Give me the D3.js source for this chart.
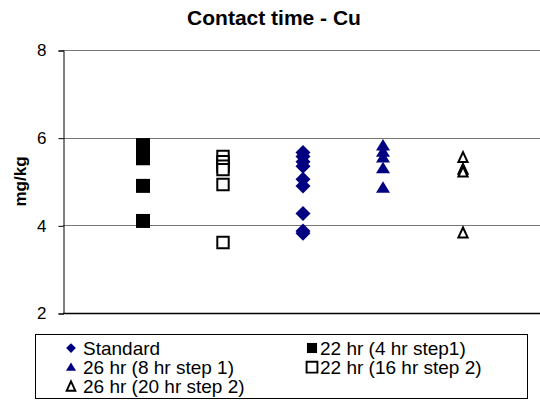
<!DOCTYPE html>
<html>
<head>
<meta charset="utf-8">
<script src="https://cdn.jsdelivr.net/npm/d3@7"></script>
<style>
  body { margin: 0; background: #fff; }
  text { font-family: Arial, "Liberation Sans", sans-serif; }
</style>
</head>
<body>
<div id="chart"></div>
<script>
// series names, in legend order
const seriesNames = [
  "Standard",
  "22 hr (4 hr step1)",
  "26 hr (8 hr step 1)",
  "22 hr (16 hr step 2)",
  "26 hr (20 hr step 2)",
];
// x position of each series on the (hidden) x axis
const seriesX = [3, 1, 4, 2, 5];
const seriesShapes = ["diamond", "square", "triangle", "openSquare", "openTriangle"];

// values in mg/kg
const standardValues = [5.66, 5.57, 5.45, 5.35, 5.05, 4.9, 4.27, 3.87, 3.82];
const hr22step1Values = [5.83, 5.72, 5.62, 5.53, 4.9, 4.1];
const hr26step1Values = [5.82, 5.68, 5.55, 5.3, 4.86];
const hr22step2Values = [5.57, 5.45, 5.35, 5.27, 4.93, 3.61];
const hr26step2Values = [5.55, 5.28, 5.22, 3.83];
const seriesValues = [standardValues, hr22step1Values, hr26step1Values, hr22step2Values, hr26step2Values];

const yTicks = [2, 4, 6, 8];

const width = 540,
  height = 402;
const margin = { top: 50, left: 63, bottom: 89 };
const navy = "#000080";

const svg = d3.select("#chart").append("svg").attr("width", width).attr("height", height);

const x = d3.scaleLinear().domain([0, 6]).range([margin.left, margin.left + 480]);
const y = d3
  .scaleLinear()
  .domain([2, 8])
  .range([height - margin.bottom, margin.top]);

// marker paths centred on 0,0
function markerPath(shape) {
  if (shape === "diamond") return "M0,-7.5L7.5,0L0,7.5L-7.5,0Z";
  if (shape === "square") return "M-7,-7H7V7H-7Z";
  if (shape === "openSquare") return "M-5.7,-5.7H5.7V5.7H-5.7Z";
  if (shape === "triangle") return "M0,-6.5L7,5L-7,5Z";
  return "M0,-5.3L4.6,4.6L-4.6,4.6Z";
}
function markerStyle(sel, shape) {
  if (shape === "diamond" || shape === "triangle") sel.attr("fill", navy).attr("stroke", "none");
  else if (shape === "square") sel.attr("fill", "#000").attr("stroke", "none");
  else sel.attr("fill", "#fff").attr("stroke", "#000").attr("stroke-width", 2);
}

// title
svg
  .append("text")
  .attr("x", 274)
  .attr("y", 25)
  .attr("text-anchor", "middle")
  .style("font-size", "21px")
  .style("font-weight", "bold")
  .text("Contact time - Cu");

// gridlines
svg
  .append("g")
  .selectAll("line")
  .data(yTicks.slice(1))
  .join("line")
  .attr("x1", x(0))
  .attr("x2", width)
  .attr("y1", (d) => Math.round(y(d)) + 0.5)
  .attr("y2", (d) => Math.round(y(d)) + 0.5)
  .attr("stroke", "#777")
  .attr("stroke-width", 1);

// y axis
const yAxis = d3.axisLeft(y).tickValues(yTicks).tickFormat(d3.format("d")).tickSize(5).tickPadding(12);
const yAxisG = svg.append("g").attr("transform", `translate(${x(0) + 0.5},0.5)`).call(yAxis);
yAxisG.select(".domain").attr("stroke", "#000");
yAxisG.selectAll(".tick line").attr("stroke", "#000");
yAxisG.selectAll("text").style("font-size", "17px").attr("fill", "#000");

// x axis line, no labels
svg
  .append("line")
  .attr("x1", x(0))
  .attr("x2", width)
  .attr("y1", Math.round(y(2)) + 0.5)
  .attr("y2", Math.round(y(2)) + 0.5)
  .attr("stroke", "#000")
  .attr("stroke-width", 1.5);

svg
  .append("text")
  .attr("transform", `translate(26,${(y(2) + y(8)) / 2}) rotate(-90)`)
  .attr("text-anchor", "middle")
  .style("font-size", "17px")
  .style("font-weight", "bold")
  .text("mg/kg");

// points
seriesNames.forEach((name, i) => {
  const shape = seriesShapes[i];
  svg
    .append("g")
    .selectAll("path")
    .data(seriesValues[i])
    .join("path")
    .attr("d", markerPath(shape))
    .attr("transform", (d) => `translate(${x(seriesX[i])},${y(d)})`)
    .call(markerStyle, shape);
});

// legend
const legend = svg.append("g");
legend
  .append("rect")
  .attr("x", 35.5)
  .attr("y", 334.5)
  .attr("width", 492)
  .attr("height", 64)
  .attr("fill", "#fff")
  .attr("stroke", "#000");

const legendItems = legend
  .selectAll("g.item")
  .data(seriesNames)
  .join("g")
  .attr("class", "item")
  .attr("transform", (d, i) => `translate(${i % 2 === 0 ? 71 : 312},${348 + Math.floor(i / 2) * 19.2})`);

legendItems.each(function (d, i) {
  const shape = seriesShapes[i];
  const scale = shape === "diamond" ? 0.65 : shape.startsWith("open") ? 0.95 : 0.72;
  d3.select(this)
    .append("path")
    .attr("d", markerPath(shape))
    .attr("transform", `scale(${scale})`)
    .call(markerStyle, shape);
});

legendItems
  .append("text")
  .attr("x", (d, i) => (i % 2 === 0 ? 12 : 8))
  .attr("y", 7)
  .style("font-size", "19px")
  .text((d) => d);
</script>
</body>
</html>
